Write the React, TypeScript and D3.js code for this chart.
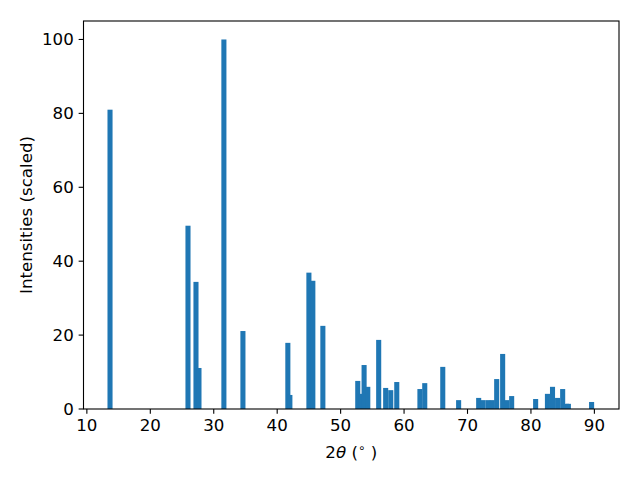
import React from "react";
import * as d3 from "d3";

const positions = [13.65, 25.94, 27.2, 27.67, 31.6, 34.6, 41.68, 42.0, 45.0, 45.62, 47.2, 52.7, 53.26, 53.7, 54.28, 56.0, 57.1, 57.9, 58.85, 62.5, 63.26, 66.1, 68.6, 71.76, 72.4, 73.2, 73.9, 74.6, 75.54, 76.17, 76.96, 80.74, 82.6, 83.4, 84.2, 85.0, 85.6, 85.9, 89.56];
const intensities = [81.0, 49.6, 34.4, 11.1, 100, 21.1, 17.9, 3.8, 36.9, 34.7, 22.5, 7.6, 4.1, 11.9, 6.0, 18.7, 5.7, 5.1, 7.3, 5.4, 7.0, 11.4, 2.4, 3.0, 2.4, 2.4, 2.4, 8.1, 14.9, 2.4, 3.5, 2.7, 4.1, 6.0, 3.0, 5.4, 1.4, 1.4, 1.9];
const xTicks = [10, 20, 30, 40, 50, 60, 70, 80, 90];
const yTicks = [0, 20, 40, 60, 80, 100];
const barWidth = 0.8;

export default function App() {
  const W = 640, H = 480;
  const left = 83.5, right = 619, top = 21, bottom = 409;
  const x = d3.scaleLinear().domain([9.47, 93.88]).range([left, right]);
  const y = d3.scaleLinear().domain([0, 105]).range([bottom, top]);
  const font = "DejaVu Sans, sans-serif";
  const fs = 16.67;
  const tickLen = 4.86;
  return (
    <svg width={W} height={H} style={{ position: "absolute", left: 0, top: 0, background: "#fff" }} fontFamily={font}>
      <rect x={0} y={0} width={W} height={H} fill="#fff" />
      {positions.map((p, i) => (
        <rect key={i} x={x(p - barWidth / 2)} width={x(p + barWidth / 2) - x(p - barWidth / 2)}
          y={y(intensities[i])} height={y(0) - y(intensities[i])} fill="#1f77b4" />
      ))}
      <rect x={left} y={top} width={right - left} height={bottom - top} fill="none" stroke="#000" strokeWidth={1.1} />
      {xTicks.map((t) => (
        <g key={t}>
          <line x1={x(t)} x2={x(t)} y1={bottom} y2={bottom + tickLen} stroke="#000" strokeWidth={1.1} />
          <text x={x(t)} y={bottom + tickLen + 4.86} dy="0.76em" textAnchor="middle" fontSize={fs} fill="#000">{t}</text>
        </g>
      ))}
      {yTicks.map((t) => (
        <g key={t}>
          <line x1={left - tickLen} x2={left} y1={y(t)} y2={y(t)} stroke="#000" strokeWidth={1.1} />
          <text x={left - tickLen - 4.86} y={y(t)} dy="0.36em" textAnchor="end" fontSize={fs} fill="#000">{t}</text>
        </g>
      ))}
      <text x={(left + right) / 2} y={458} textAnchor="middle" fontSize={fs} fill="#000">
        2<tspan fontStyle="italic">θ</tspan> (<tspan fontSize={12} dy="-6">∘</tspan><tspan dy="6"> )</tspan>
      </text>
      <text transform={`translate(31.5,${(top + bottom) / 2}) rotate(-90)`} textAnchor="middle" fontSize={fs} fill="#000">
        Intensities (scaled)
      </text>
    </svg>
  );
}
